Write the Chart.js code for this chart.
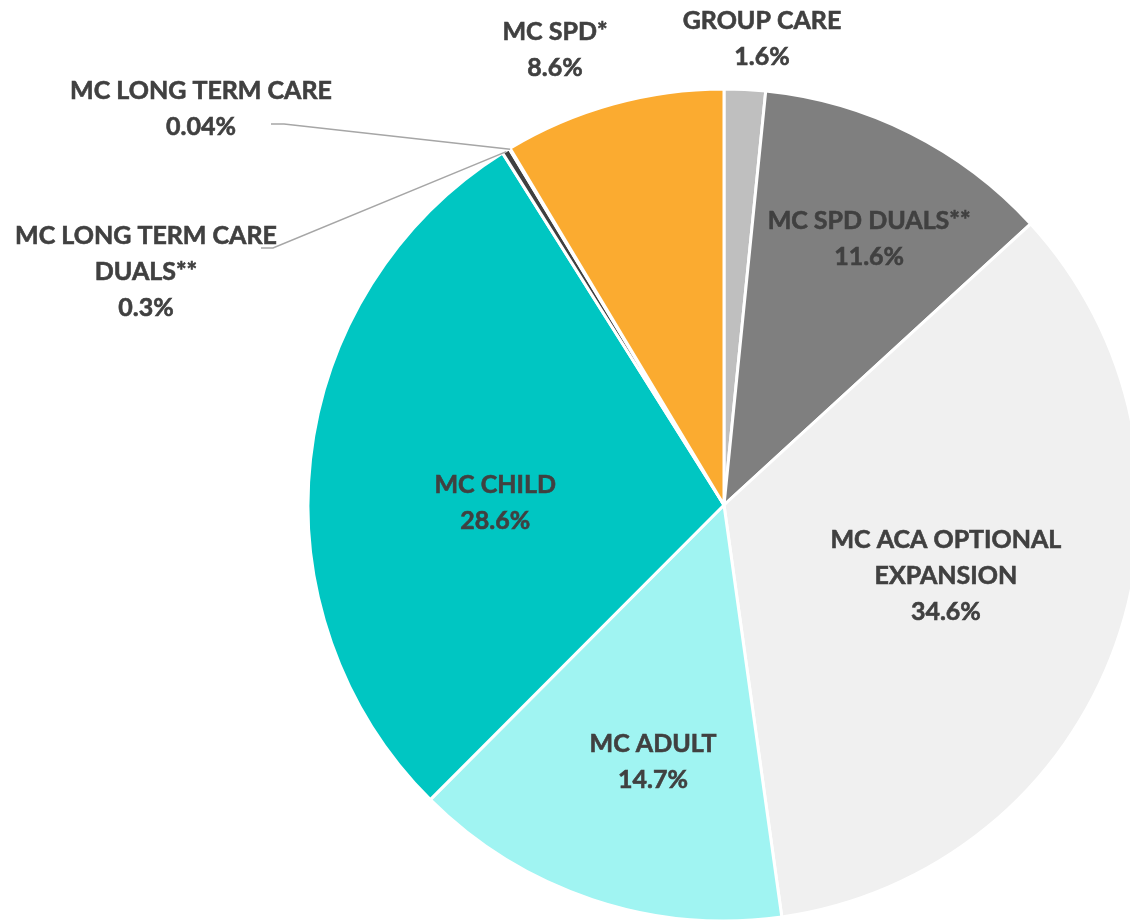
<!DOCTYPE html>
<html>
<head>
<meta charset="utf-8">
<script src="https://cdn.jsdelivr.net/npm/chart.js@4/dist/chart.umd.min.js"></script>
<style>
  html, body { margin: 0; padding: 0; background: #ffffff; overflow: hidden; }
  #wrap { position: relative; width: 1130px; height: 922px; }
</style>
</head>
<body>
<div id="wrap"><canvas id="c" width="1130" height="922"></canvas></div>
<script>
// ---- data ----
const categories = [
  "GROUP CARE",
  "MC SPD DUALS**",
  "MC ACA OPTIONAL EXPANSION",
  "MC ADULT",
  "MC CHILD",
  "MC LONG TERM CARE DUALS**",
  "MC LONG TERM CARE",
  "MC SPD*"
];
const shares = [1.6, 11.6, 34.6, 14.7, 28.6, 0.3, 0.04, 8.6];
const shareLabels = ["1.6%", "11.6%", "34.6%", "14.7%", "28.6%", "0.3%", "0.04%", "8.6%"];
const labelLines = [
  ["GROUP CARE"],
  ["MC SPD DUALS**"],
  ["MC ACA OPTIONAL", "EXPANSION"],
  ["MC ADULT"],
  ["MC CHILD"],
  ["MC LONG TERM CARE", "DUALS**"],
  ["MC LONG TERM CARE"],
  ["MC SPD*"]
];
const colors = ["#bfbfbf", "#7f7f7f", "#f0f0f0", "#a0f4f2", "#00c6c2", "#404040", "#a5a5a5", "#fbab30"];

// label layout (annotation placement, not data)
const labelLayout = [
  { mode: "outside", tx: 762, ty: 21, leader: false },
  { mode: "inside", frac: 0.728, da: 2.0 },
  { mode: "inside", frac: 0.56, da: -2 },
  { mode: "inside", frac: 0.64, da: -3 },
  { mode: "inside", frac: 0.55, da: -5.75 },
  { mode: "outside", tx: 146, ty: 236, leader: true, ex1: 261, ex2: 273, ey: 248 },
  { mode: "outside", tx: 201, ty: 91, leader: true, ex1: 271, ex2: 284, ey: 124 },
  { mode: "outside", tx: 555, ty: 32, leader: false }
];

const FONT = "bold 25px Lato, 'Open Sans', sans-serif";
const LINE_H = 36;

const labelPlugin = {
  id: "pieLabels",
  afterDatasetsDraw(chart) {
    const ctx = chart.ctx;
    const meta = chart.getDatasetMeta(0);
    ctx.save();
    ctx.font = FONT;
    ctx.fillStyle = "#404040";
    ctx.textAlign = "center";
    ctx.textBaseline = "middle";
    const put = (t, x, y) => {
      ctx.lineWidth = 0.6;
      ctx.strokeStyle = "#404040";
      ctx.strokeText(t, x, y);
      ctx.fillText(t, x, y);
    };
    meta.data.forEach((arc, i) => {
      const p = arc.getProps(["x", "y", "startAngle", "endAngle", "outerRadius"], true);
      const lay = labelLayout[i];
      const lines = labelLines[i].concat([shareLabels[i]]);
      const mid = (p.startAngle + p.endAngle) / 2;
      if (lay.mode === "inside") {
        const a = mid + (lay.da || 0) * Math.PI / 180;
        const cx = p.x + Math.cos(a) * p.outerRadius * lay.frac;
        const cy = p.y + Math.sin(a) * p.outerRadius * lay.frac;
        const top = cy - (lines.length - 1) * LINE_H / 2;
        lines.forEach((t, k) => put(t, cx, top + k * LINE_H));
      } else {
        lines.forEach((t, k) => put(t, lay.tx, lay.ty + k * LINE_H));
        if (lay.leader) {
          const ax = p.x + Math.cos(mid) * (p.outerRadius - 1);
          const ay = p.y + Math.sin(mid) * (p.outerRadius - 1);
          ctx.beginPath();
          ctx.strokeStyle = "#a6a6a6";
          ctx.lineWidth = 1.5;
          ctx.moveTo(lay.ex1, lay.ey);
          ctx.lineTo(lay.ex2, lay.ey);
          ctx.lineTo(ax, ay);
          ctx.stroke();
        }
      }
    });
    ctx.restore();
  }
};

new Chart(document.getElementById("c"), {
  type: "pie",
  data: {
    labels: categories,
    datasets: [{
      data: shares,
      backgroundColor: colors,
      borderColor: "#ffffff",
      borderWidth: 3,
      clip: false
    }]
  },
  options: {
    responsive: false,
    animation: false,
    radius: 416,
    layout: { padding: { left: 318, right: 0, top: 88, bottom: 0 } },
    plugins: {
      legend: { display: false },
      tooltip: { enabled: false }
    }
  },
  plugins: [labelPlugin]
});
</script>
</body>
</html>
